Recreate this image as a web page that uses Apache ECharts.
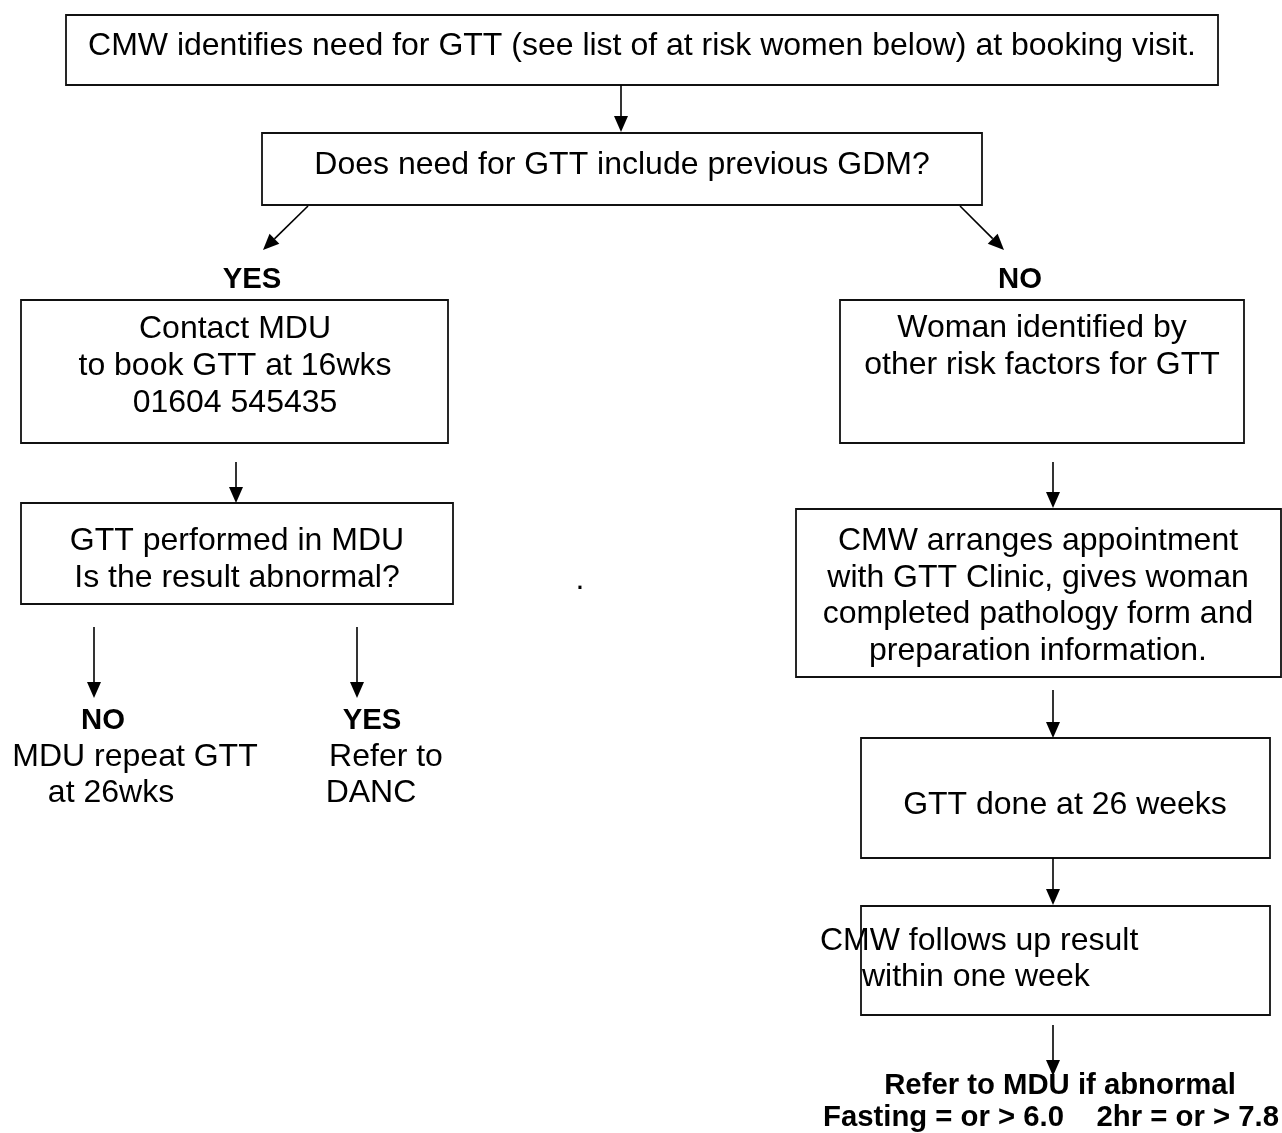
<!DOCTYPE html>
<html>
<head>
<meta charset="utf-8">
<script src="https://cdn.jsdelivr.net/npm/echarts@6/dist/echarts.min.js"></script>
<style>
html,body{margin:0;padding:0;background:#fff;}
#chart{width:1282px;height:1133px;}
</style>
</head>
<body>
<div id="chart"></div>
<script>
// Flowchart nodes (box extents in page units: x0, y0, x1, y1)
const boxes = [
  [66, 15, 1218, 85],
  [262, 133, 982, 205],
  [21, 300, 448, 443],
  [840, 300, 1244, 443],
  [21, 503, 453, 604],
  [796, 509, 1281, 677],
  [861, 738, 1270, 858],
  [861, 906, 1270, 1015]
];
// Connectors (from x, from y, to x, to y) — arrowhead at the "to" end
const arrows = [
  [621, 85, 621, 132],
  [308, 206, 263, 250],
  [960, 206, 1004, 250],
  [236, 462, 236, 503],
  [1053, 462, 1053, 508],
  [94, 627, 94, 698],
  [357, 627, 357, 698],
  [1053, 690, 1053, 738],
  [1053, 858, 1053, 905],
  [1053, 1025, 1053, 1076]
];
// Regular text lines: [text, x, y, align]
const texts = [
  ["CMW identifies need for GTT (see list of at risk women below) at booking visit.", 642, 46, "center"],
  ["Does need for GTT include previous GDM?", 622, 165, "center"],
  ["Contact MDU", 235, 329, "center"],
  ["to book GTT at 16wks", 235, 366, "center"],
  ["01604 545435", 235, 403, "center"],
  ["Woman identified by", 1042, 328, "center"],
  ["other risk factors for GTT", 1042, 365, "center"],
  ["GTT performed in MDU", 237, 541, "center"],
  ["Is the result abnormal?", 237, 578, "center"],
  [".", 580, 580, "center"],
  ["CMW arranges appointment", 1038, 541, "center"],
  ["with GTT Clinic, gives woman", 1038, 578, "center"],
  ["completed pathology form and", 1038, 614, "center"],
  ["preparation information.", 1038, 651, "center"],
  ["MDU repeat GTT", 135, 757, "center"],
  ["at 26wks", 111, 793, "center"],
  ["Refer to", 386, 757, "center"],
  ["DANC", 371, 793, "center"],
  ["GTT done at 26 weeks", 1065, 805, "center"],
  ["CMW follows up result", 820, 941, "left"],
  ["within one week", 862, 977, "left"]
];
// Bold text lines: [text, x, y]
const boldTexts = [
  ["YES", 252, 280],
  ["NO", 1020, 280],
  ["NO", 103, 721],
  ["YES", 372, 721],
  ["Refer to MDU if abnormal", 1060, 1086],
  ["Fasting = or > 6.0    2hr = or > 7.8", 1051, 1118]
];

const FONT = '"Liberation Sans", Arial, Helvetica, sans-serif';

const chart = echarts.init(document.getElementById('chart'), null, {renderer: 'canvas'});

const option = {
  backgroundColor: '#ffffff',
  animation: false,
  grid: {left: 0, right: 0, top: 0, bottom: 0},
  xAxis: {type: 'value', min: 0, max: 1282, show: false},
  yAxis: {type: 'value', min: 0, max: 1133, inverse: true, show: false},
  series: [
    {
      type: 'custom',
      name: 'boxes',
      silent: true,
      data: boxes.map(b => b.slice()),
      renderItem: function (params, api) {
        const p0 = api.coord([api.value(0), api.value(1)]);
        const p1 = api.coord([api.value(2), api.value(3)]);
        return {
          type: 'rect',
          shape: {x: p0[0], y: p0[1], width: p1[0] - p0[0], height: p1[1] - p0[1]},
          style: {fill: 'none', stroke: '#111', lineWidth: 1.8}
        };
      }
    },
    {
      type: 'custom',
      name: 'arrows',
      silent: true,
      data: arrows.map(a => a.slice()),
      renderItem: function (params, api) {
        const a = api.coord([api.value(0), api.value(1)]);
        const b = api.coord([api.value(2), api.value(3)]);
        const dx = b[0] - a[0], dy = b[1] - a[1];
        const len = Math.sqrt(dx * dx + dy * dy);
        const ux = dx / len, uy = dy / len;
        const hl = 16, hw = 7;
        const bx = b[0] - ux * hl, by = b[1] - uy * hl;
        return {
          type: 'group',
          children: [
            {
              type: 'line',
              shape: {x1: a[0], y1: a[1], x2: bx, y2: by},
              style: {stroke: '#000', lineWidth: 1.6}
            },
            {
              type: 'polygon',
              shape: {points: [
                [b[0], b[1]],
                [bx - uy * hw, by + ux * hw],
                [bx + uy * hw, by - ux * hw]
              ]},
              style: {fill: '#000'}
            }
          ]
        };
      }
    },
    {
      type: 'custom',
      name: 'texts',
      silent: true,
      data: texts.map(t => [t[1], t[2]]),
      renderItem: function (params, api) {
        const p = api.coord([api.value(0), api.value(1)]);
        const t = texts[params.dataIndex];
        return {
          type: 'text',
          x: p[0], y: p[1],
          style: {
            text: t[0], fill: '#000',
            font: 'normal 32px ' + FONT,
            textAlign: t[3], textVerticalAlign: 'middle'
          }
        };
      }
    },
    {
      type: 'custom',
      name: 'boldTexts',
      silent: true,
      data: boldTexts.map(t => [t[1], t[2]]),
      renderItem: function (params, api) {
        const p = api.coord([api.value(0), api.value(1)]);
        const t = boldTexts[params.dataIndex];
        return {
          type: 'text',
          x: p[0], y: p[1],
          style: {
            text: t[0], fill: '#000',
            font: 'bold 29.3px ' + FONT,
            textAlign: 'center', textVerticalAlign: 'middle'
          }
        };
      }
    }
  ]
};
chart.setOption(option);
</script>
</body>
</html>
